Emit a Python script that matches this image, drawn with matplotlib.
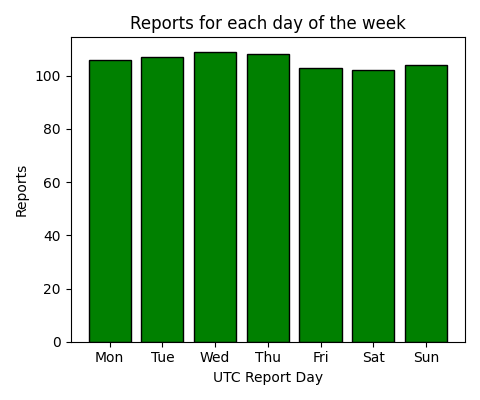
import matplotlib
matplotlib.use('Agg')
import matplotlib.pyplot as plt

days = ['Mon', 'Tue', 'Wed', 'Thu', 'Fri', 'Sat', 'Sun']
reports = [106, 107, 109, 108, 103, 102, 104]

plt.figure(figsize=(4.8, 4), dpi=100)
plt.bar(days, reports, color='green', edgecolor='black')
plt.title('Reports for each day of the week')
plt.xlabel('UTC Report Day')
plt.ylabel('Reports')
plt.tight_layout()
plt.savefig('out.png')
